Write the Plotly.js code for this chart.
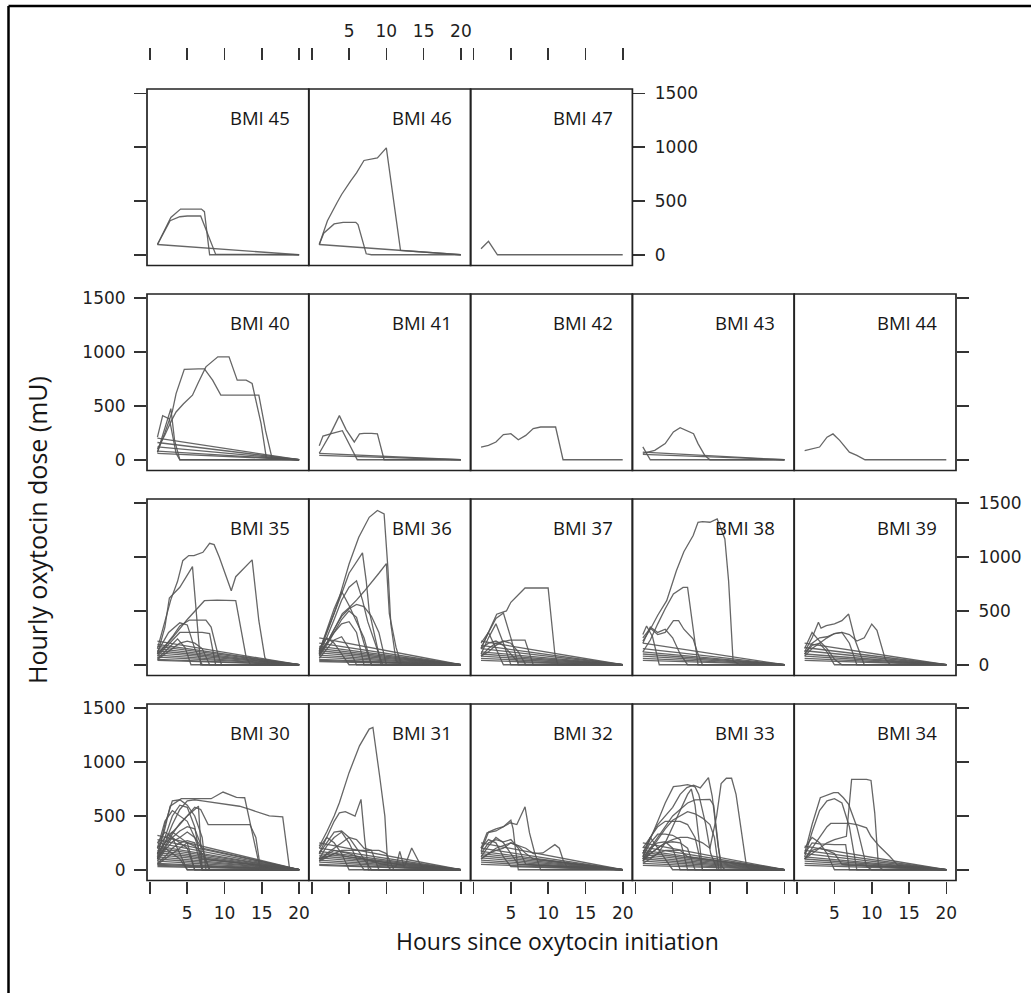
<!DOCTYPE html>
<html><head><meta charset="utf-8">
<script src="https://cdn.plot.ly/plotly-3.0.1.min.js"></script>
<style>html,body{margin:0;padding:0;background:#fff}#chart{width:1031px;height:993px}</style>
</head><body><div id="chart"></div>
<script>
// ---------------- DATA ----------------
const bmiLevels = [30,31,32,33,34,35,36,37,38,39,40,41,42,43,44,45,46,47];
const xTickVals = [0,5,10,15,20];
const xTickText = ['', '5', '10', '15', '20'];
const yTickVals = [0,500,1000,1500];
const yTickText = ['0','500','1000','1500'];
// straight single-interval patients: start at hour 1, end at hour 20 with dose 0
const straightHours = [1,20];
const straightEndDose = 0;

const hours30 = [[1,2,2.7,4.2,6,8.2,9.8,11.6,12.7,14.3,14.7,20],[1,2,3,4,5,6,7,8,9,10,11,12,13.4,14.7,16,17.8,18.7,20],[1,2,3,4,5,6,6.8,7.8,10,13.4,14.2,14.8,20],[1,2,3,4,5,6,7,7.5,20],[1,2,3,4,5,6,7,20],[1,2,3,4,5,6,6.5,7,20],[1,2,3,4,5,6,7,20],[1,2,3,4,5,6,7,8,20],[1,2,3,4,5,6,20],[1,2,3,4,5,6,20],[1,2,3,4,5,6,7,20],[1,2,3,4,5,20],[1,2,3,4,5,20],[1,2,3,4,5,6,7,8,20],[1,2,3,4,5,6,7,20]];
const dose30 = [[150,380,590,660,660,660,722,672,669,156,30,0],[100,250,420,560,640,650,640,630,620,610,600,590,560,529,500,492,20,0],[100,220,330,430,500,580,560,420,420,420,300,20,0],[120,420,640,650,600,500,300,0,0],[100,300,500,600,580,400,0,0],[150,250,350,420,500,560,591,0,0],[100,200,300,360,400,380,200,0],[80,180,260,300,350,300,200,0,0],[200,300,350,300,250,0,0],[150,250,300,250,200,0,0],[60,120,200,250,270,250,0,0],[250,350,300,150,0,0],[100,200,150,100,0,0],[50,100,150,200,250,220,150,0,0],[200,450,550,500,450,300,100,0]];
const startDose30 = [320,280,250,220,200,180,160,140,120,100,80,60,50,40,30];

const hours31 = [[1,2,3,3.7,5,6.4,7.7,8.2,9.1,9.8,10.2,10.6,20],[1,2,3,3.7,4.5,5.8,6.6,7.1,7.6,20],[1,3,5,7,9,11.3,11.8,12.4,20],[1,3,5,7,9,11,12.5,13.4,14.7,20],[1,2,3,4,5,6,7,8,20],[1,2,3,4,5,6,7,20],[1,2,3,4,5,6,7,8,9,20],[1,2,3,4,5,20],[1,2,3,4,5,6,7,8,9,10,11,20]];
const dose31 = [[218,350,500,622,902,1151,1307,1322,871,498,31,0,0],[150,300,450,529,540,498,654,280,0,0],[100,180,150,100,60,30,171,20,0],[80,150,120,100,80,60,40,202,30,0],[150,250,350,360,300,200,100,0,0],[100,220,300,350,250,100,0,0],[80,150,200,250,300,280,200,180,0,0],[200,300,250,150,0,0],[100,120,150,180,180,180,180,180,180,150,0,0]];
const startDose31 = [250,200,170,150,130,110,90,70,50,40];

const hours32 = [[1,1.8,3,3.8,4.9,5.8,6.9,7.5,8.2,9,20],[1,2,3,4,5,5.3,5.6,6,20],[1,3,5,7,8,9.3,10.9,11.5,12,12.5,20],[1,2,3,4,5,6,7,20],[1,2,3,4,5,6,20],[1,2,3,4,5,6,7,8,20],[1,2,3,4,5,20]];
const dose32 = [[200,342,360,389,436,420,585,342,156,0,0],[170,350,380,400,460,380,200,0,0],[100,200,250,200,150,156,233,200,93,30,0],[150,250,280,260,280,200,50,0],[120,220,300,250,150,50,0],[100,150,180,200,250,220,150,100,0],[200,280,250,120,30,0]];
const startDose32 = [250,200,170,150,130,110,90,70,50];

const hours33 = [[1,2,3,4,5,6,6.9,7.8,8.7,9.8,10.3,11.1,11.6,12,20],[1,2,3,4,5.1,6,7,8,8.5,9.4,10.1,11,20],[1,2,3,4,5,6,7,8,9,10,10.5,11,11.5,20],[1,2,3,4,5,6,7,8,9,10,10.6,11.2,20],[1,2,3,4,5,6,7,7.5,8,8.5,9,20],[1,2,3,4,5,6,7,8,9,20],[1,2,3,4,5,6,7,20],[1,2,3,4,5,6,20],[1,2,3,4,5,6,7,8,20],[1,2,3,4,5,20],[1,2,3,4,5,6,7,20],[1,2,3,4,5,6,7,8,9,10,10.9,11.5,12.2,12.9,13.5,14.2,14.9,15.5,20]];
const dose33 = [[150,300,420,500,580,700,763,785,760,856,685,218,31,0,0],[120,280,450,620,772,780,790,770,700,430,150,0,0],[100,200,300,400,500,560,620,650,654,654,600,300,0,0],[80,180,280,380,460,500,540,520,480,420,300,0,0],[100,110,150,250,400,550,700,750,600,300,0,0],[150,300,400,450,450,450,420,300,0,0],[120,250,330,330,320,280,0,0],[100,200,250,260,200,0,0],[80,150,200,250,260,250,200,0,0],[200,300,200,100,0,0],[60,100,150,180,180,180,120,0],[100,150,200,250,280,300,300,280,250,200,500,800,850,850,700,342,31,0,0]];
const startDose33 = [250,210,180,160,140,120,100,80,60,40];

const hours34 = [[1,2,3,4,5,6,6.6,7.3,8,9.3,9.9,10.4,10.9,11.5,20],[1,2,3.1,4,4.9,5.5,6.2,6.9,8,9.3,10,20],[1,2,3,4,5,6,7,7.5,8,20],[1,2,3,4,4.5,6,7,8,9.3,9.9,11,12.4,13.5,20],[1,2,3,4,5,6,6.5,7,20],[1,2,3,4,5,20],[1,2,3,4,5,6,20]];
const dose34 = [[100,150,200,250,280,300,311,840,840,840,830,529,31,0,0],[150,420,669,690,716,716,669,607,400,31,0,0],[120,350,550,640,660,620,400,200,0,0],[100,200,300,400,430,430,430,420,389,311,220,125,40,0],[150,250,240,233,233,233,233,0,0],[200,300,250,150,0,0],[100,180,200,180,150,50,0]];
const startDose34 = [220,180,150,120,100,80,60,40];

const hours35 = [[1,2,2.8,3.7,4.4,5.2,5.9,7.1,8,8.6,9.3,10.9,11.5,13.7,14.6,15.4,16,20],[1,2,2.6,4,5.7,6.3,6.8,20],[1,3,5,6.8,7.3,9,11.5,12.9,13.5,20],[1,2,3,4,5.3,6,7.5,8.2,9.1,9.6,20],[1,2,3,4,5,6,7,8,8.8,20],[1,2,3.7,4.7,5.5,20],[1,2.5,4,5,6,7,20],[1,2,3,4,5,6,7,8,20]];
const dose35 = [[150,400,605,775,967,1014,1014,1045,1128,1116,998,688,818,974,409,68,0,0],[100,350,620,720,912,400,0,0],[100,250,420,564,595,600,595,68,0,0],[100,170,260,360,415,415,415,350,100,0,0],[80,150,220,300,300,300,300,290,0,0],[60,120,240,160,0,0],[120,300,390,370,150,0,0],[50,100,150,200,220,200,150,0,0]];
const startDose35 = [220,190,170,150,130,110,90,70,50,40];

const hours36 = [[1,2,3,3.7,5,6.3,7.7,8.8,9.7,10.2,10.6,11.3,12,20],[1,2,3,4,5,6.8,7.3,7.7,8.8,9.3,20],[1,2,3,4.1,5,6,7,8,9,10,10.4,11.3,12,20],[1,2,3,4,5,6,6.8,7.5,8.5,9.5,20],[1,2,3,4,5,6,7,8,20],[1,2,3,4,5,6,7,8,9,10,20],[1,2,3,4,5,6,7,8,20],[1,2,3,4,5,6,7,20],[1,2,3,4,5,6,20],[1,2,3,4,5,20]];
const dose36 = [[130,300,480,626,936,1184,1370,1433,1402,905,378,37,0,0],[110,290,470,660,850,1040,780,500,160,0,0],[100,200,330,474,530,600,680,760,850,940,474,161,0,0],[100,250,420,600,720,780,600,400,200,0,0],[120,320,520,680,550,400,250,0,0],[90,200,330,450,520,560,540,450,300,0,0],[80,180,300,420,500,440,200,0,0],[100,200,300,380,400,300,0,0],[60,150,230,260,150,0,0],[150,250,200,100,0,0]];
const startDose36 = [250,200,170,150,130,110,90,70,50,40,30];

const hours37 = [[1,2,3.1,4.4,5,6.9,8,10,10.9,11.3,20],[1,2,3,4,5,6,20],[1,2,3,4.9,6.9,7.5,8,20],[1,2,3,4,5,20],[1,2,3,4,20],[1,2,3,4,5,6,7,20],[1,2,3,4,5,6,20]];
const dose37 = [[150,300,470,500,580,713,713,713,100,0,0],[150,300,430,480,250,0,0],[80,150,200,229,229,100,0,0],[100,250,380,200,0,0],[200,300,150,0,0],[80,120,180,220,200,120,0,0],[150,200,220,180,100,20,0]];
const startDose37 = [220,180,150,120,100,80,60,40];

const hours38 = [[1,2,3,4.2,5.5,6.5,7.75,8.4,9,10,10.97,12,12.5,13.1,14,20],[1,2,3,4,5.1,6.4,7,7.75,8.4,20],[1,2,3,4,5.1,5.8,6.5,7.75,8.4,9,20],[1,2,3,4,5,6,7,20],[1,1.5,2.3,3.2,20]];
const dose38 = [[220,330,460,595,874,1050,1200,1324,1330,1324,1355,1169,781,37,0,0],[120,230,380,520,657,719,719,316,0,0],[250,340,280,300,409,409,330,239,99,0,0],[200,350,300,330,250,100,0,0],[280,360,260,0,0]];
const startDose38 = [200,150,120,100,80,60,40];

const hours39 = [[1,2,2.85,3.2,3.9,5,6,6.9,7.8,8.5,9,20],[1,2,3,4,5,6,7,8,9,10,10.7,11.8,12.5,20],[1,2,3,4,5,6,7,8,20],[1,2,3,4,5,6,20],[1,2,3,4,5,20]];
const dose39 = [[120,250,394,340,363,380,409,471,223,99,0,0],[80,150,200,250,290,300,280,220,250,378,320,53,0,0],[100,200,250,260,290,300,200,0,0],[150,300,220,150,50,0,0],[100,180,200,120,0,0]];
const startDose39 = [200,160,130,100,80,60,40];

const hours40 = [[1,2,3,3.5,4.6,5.5,6.5,7.3,8.4,9.5,11,13,14.6,15.5,16.4,20],[1,2,3,3.5,4.5,5.7,6.5,7.5,9.1,10.6,11.7,12.9,13.7,14.9,15.6,20],[1,1.7,2.6,3.5,4,20],[1,2.8,3.3,4,20]];
const dose40 = [[70,250,450,615,840,845,845,845,740,600,600,600,600,270,5,0],[100,230,380,444,520,600,720,863,956,956,740,740,708,335,20,0],[210,410,380,60,0,0],[70,475,180,0,0]];
const startDose40 = [200,160,120,80,60];

const hours41 = [[1,1.5,2.5,3.7,4.6,5.7,6.4,7,8,8.8,9.7,20],[1,2.5,4.1,6.1,20]];
const dose41 = [[130,220,240,410,280,165,240,245,245,240,0,0],[60,240,270,0,0]];
const startDose41 = [60,40];

const hours42 = [[1,2,3,4,5,6,7,8,9,11,12,20]];
const dose42 = [[118,133,165,233,242,186,226,289,304,304,0,0]];
const startDose42 = [];

const hours43 = [[1,2.6,4,5.1,6,7.8,8.4,9.3,10,20],[1,2,20]];
const dose43 = [[60,87,150,258,298,242,150,40,0,0],[120,0,0]];
const startDose43 = [70,50];

const hours44 = [[1,2,3,4,4.8,5.7,7,8,9.1,20]];
const dose44 = [[85,100,118,210,240,180,70,40,0,0]];
const startDose44 = [];

const hours45 = [[1,2.8,4.1,5,6,6.9,7.3,8,20],[1,2.7,4,5,6,6.8,8.8,20]];
const dose45 = [[95,347,424,425,425,424,400,0,0],[95,316,353,360,360,360,5,0]];
const startDose45 = [95];

const hours46 = [[1,2.1,3.4,4,5.2,6,7,8.8,10,11.9,20],[1,1.6,3,4.2,5.9,6.2,7.3,8,20]];
const dose46 = [[95,316,485,560,685,760,876,900,993,40,0],[95,200,286,301,301,280,9,0,0]];
const startDose46 = [95];

const hours47 = [[1,2,3.2,20]];
const dose47 = [[55,125,0,0]];
const startDose47 = [];

// table built from the named arrays
const panelTable = {
  30:[hours30,dose30,startDose30],31:[hours31,dose31,startDose31],32:[hours32,dose32,startDose32],
  33:[hours33,dose33,startDose33],34:[hours34,dose34,startDose34],35:[hours35,dose35,startDose35],
  36:[hours36,dose36,startDose36],37:[hours37,dose37,startDose37],38:[hours38,dose38,startDose38],
  39:[hours39,dose39,startDose39],40:[hours40,dose40,startDose40],41:[hours41,dose41,startDose41],
  42:[hours42,dose42,startDose42],43:[hours43,dose43,startDose43],44:[hours44,dose44,startDose44],
  45:[hours45,dose45,startDose45],46:[hours46,dose46,startDose46],47:[hours47,dose47,startDose47]
};

// ---------------- LAYOUT ----------------
const W = 1031, H = 993;
const colLeft = [147, 308.8, 470.6, 632.4, 794.2], pw = 161.8;
const rowTop = [89, 294, 499, 704], ph = 176.5;
const lineColor = 'rgba(85,85,85,0.9)';
const tickFont = {family:'DejaVu Sans, Liberation Sans, sans-serif', size:17, color:'#1e1e1e'};
const stripFont = {family:'Open Sans, Noto Sans, sans-serif', size:18.5, color:'#161616'};

const traces = [];
const layout = {
  width: W, height: H, margin:{l:0,r:0,t:0,b:0}, showlegend:false,
  paper_bgcolor:'#ffffff', plot_bgcolor:'rgba(0,0,0,0)',
  shapes: [], annotations: []
};

bmiLevels.forEach((b, i) => {
  const k = i + 1;
  const xs = k === 1 ? 'x' : 'x' + k, ys = k === 1 ? 'y' : 'y' + k;
  const xKey = k === 1 ? 'xaxis' : 'xaxis' + k, yKey = k === 1 ? 'yaxis' : 'yaxis' + k;
  let row, col;
  if (b < 35) { row = 3; col = b - 30; }
  else if (b < 40) { row = 2; col = b - 35; }
  else if (b < 45) { row = 1; col = b - 40; }
  else { row = 0; col = b - 45; }
  const lastCol = row === 0 ? 2 : 4;

  const [hrs, doses, starts] = panelTable[b];
  hrs.forEach((h, j) => {
    traces.push({type:'scatter', mode:'lines', x:h, y:doses[j], xaxis:xs, yaxis:ys,
      line:{color:lineColor, width:1.3}, hoverinfo:'skip'});
  });
  starts.forEach(s => {
    traces.push({type:'scatter', mode:'lines', x:straightHours, y:[s, straightEndDose], xaxis:xs, yaxis:ys,
      line:{color:lineColor, width:1.3}, hoverinfo:'skip'});
  });

  const x0 = colLeft[col] / W, x1 = (colLeft[col] + pw) / W;
  const yTop = 1 - rowTop[row] / H, yBot = 1 - (rowTop[row] + ph) / H;

  const xa = {domain:[x0, x1], range:[-0.4, 21.3], showgrid:false, zeroline:false, showline:false,
    fixedrange:true, tickvals:xTickVals, tickfont:tickFont, tickcolor:'#333', tickwidth:1.6};
  if (row === 3) {
    Object.assign(xa, {anchor:ys, side:'bottom', ticks:'outside', ticklen:12,
      ticktext: col % 2 === 0 ? xTickText : ['', '', '', '', ''], ticklabelstandoff:5});
  } else if (row === 0) {
    Object.assign(xa, {anchor:'free', position:1 - 60 / H, side:'top', ticks:'outside', ticklen:12,
      ticktext: col === 1 ? xTickText : ['', '', '', '', ''], ticklabelstandoff:4});
  } else {
    Object.assign(xa, {anchor:ys, ticks:'', showticklabels:false});
  }
  layout[xKey] = xa;

  const ya = {domain:[yBot, yTop], range:[-100, 1540], anchor:xs, showgrid:false, zeroline:false,
    showline:false, fixedrange:true, tickvals:yTickVals, ticktext:yTickText, tickfont:tickFont,
    tickcolor:'#333', tickwidth:1.6};
  if (col === 0) {
    Object.assign(ya, {side:'left', ticks:'outside', ticklen:12,
      showticklabels: row === 1 || row === 3, ticklabelstandoff:5});
  } else if (col === lastCol) {
    Object.assign(ya, {side:'right', ticks:'outside', ticklen:12,
      showticklabels: row === 0 || row === 2, ticklabelstandoff:6});
  } else {
    Object.assign(ya, {ticks:'', showticklabels:false});
  }
  layout[yKey] = ya;

  layout.shapes.push({type:'rect', xref:xs + ' domain', yref:ys + ' domain', x0:0, x1:1, y0:0, y1:1,
    line:{color:'#222', width:1.7}, fillcolor:'rgba(0,0,0,0)', layer:'above'});
  layout.annotations.push({text:'BMI ' + b, xref:xs + ' domain', yref:ys + ' domain', x:1, y:1,
    xanchor:'right', yanchor:'top', xshift:-17, yshift:-14, showarrow:false, font:stripFont});
});

// outer frame (left and top edges visible in the reference)
layout.shapes.push({type:'line', xref:'paper', yref:'paper', x0:8.5/W, x1:8.5/W, y0:0, y1:1 - 6/H,
  line:{color:'#000', width:2.5}});
layout.shapes.push({type:'line', xref:'paper', yref:'paper', x0:8.5/W, x1:1, y0:1 - 6/H, y1:1 - 6/H,
  line:{color:'#000', width:2.5}});

// axis titles
layout.annotations.push({text:'Hours since oxytocin initiation', xref:'paper', yref:'paper',
  x:557/W, y:1 - 941/H, xanchor:'center', yanchor:'middle', showarrow:false,
  font:{family:'Open Sans, Noto Sans, sans-serif', size:23, color:'#161616'}});
layout.annotations.push({text:'Hourly oxytocin dose (mU)', xref:'paper', yref:'paper',
  x:37/W, y:1 - 530/H, xanchor:'center', yanchor:'middle', textangle:-90, showarrow:false,
  font:{family:'Open Sans, Noto Sans, sans-serif', size:25, color:'#161616'}});

Plotly.newPlot('chart', traces, layout, {staticPlot:true, displayModeBar:false});
</script></body></html>
